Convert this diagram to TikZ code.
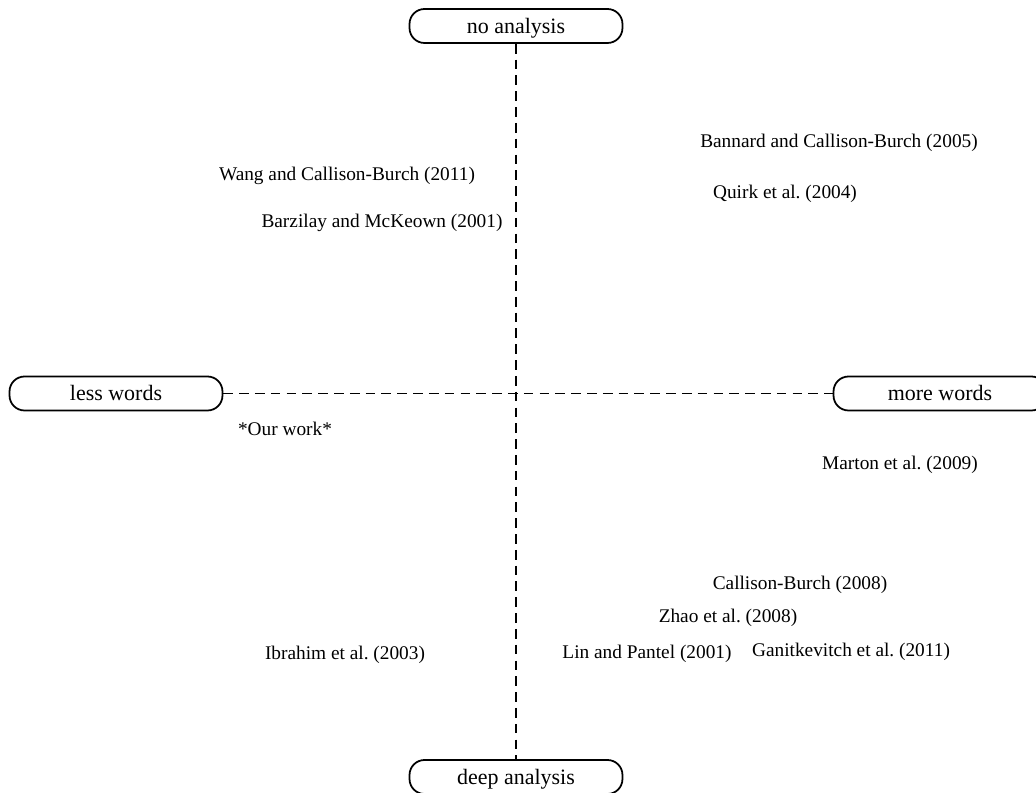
\documentclass[tikz,border=0pt]{standalone}
\usepackage{fontspec}
\setmainfont{Liberation Serif}
\frenchspacing
\begin{document}
\begin{tikzpicture}[x=0.02cm,y=-0.02cm,
  axisbox/.style={draw,line width=1pt,rounded corners=0.3cm,minimum width=4.26cm,minimum height=0.68cm,inner sep=0pt,text height=10pt,text depth=2pt,font=\fontsize{12.5}{14}\selectfont},
  work/.style={inner sep=0pt,font=\fontsize{11}{13}\selectfont},
  axisline/.style={line width=1pt,dash pattern=on 5.5pt off 3.5pt}]
\useasboundingbox (0,0) rectangle (1036,793);
\begin{scope}
\clip (0,0) rectangle (1036,793);
\node[axisbox] (top) at (516,26) {no analysis};
\node[axisbox] (bottom) at (516,777) {deep analysis};
\node[axisbox] (left) at (116,393.5) {less words};
\node[axisbox] (right) at (940,393.5) {more words};
\end{scope}
\draw[axisline] (top.south) -- (bottom.north);
\draw[axisline] (left.east) -- (right.west);

\node[work] (bannard) at (839,143) {Bannard and Callison-Burch (2005)};
\node[work] (wang) at (347,176) {Wang and Callison-Burch (2011)};
\node[work] (quirk) at (785,194) {Quirk et al. (2004)};
\node[work] (barzilay) at (382,223) {Barzilay and McKeown (2001)};
\node[work] (ours) at (285,429) {*Our work*};
\node[work] (marton) at (900,465) {Marton et al. (2009)};
\node[work] (cb) at (800,585) {Callison-Burch (2008)};
\node[work] (zhao) at (728,618) {Zhao et al. (2008)};
\node[work] (ibrahim) at (345,655) {Ibrahim et al. (2003)};
\node[work] (lin) at (647,654) {Lin and Pantel (2001)};
\node[work] (ganit) at (851,652) {Ganitkevitch et al. (2011)};
\end{tikzpicture}
\end{document}
